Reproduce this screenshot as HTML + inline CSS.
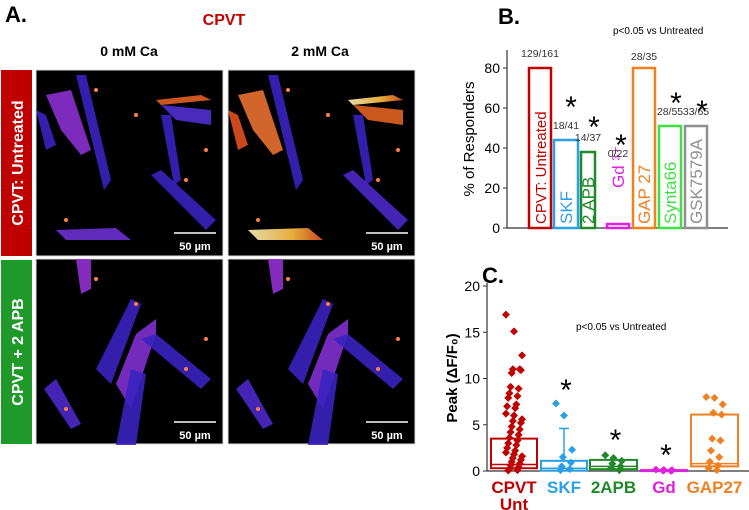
<!DOCTYPE html>
<html><head><meta charset="utf-8"><style>
body{margin:0;background:#fff;width:749px;height:510px;overflow:hidden;font-family:"Liberation Sans",sans-serif}
svg{position:absolute;left:0;top:0}
</style></head><body>
<svg width="749" height="510" font-family="Liberation Sans, sans-serif">
<defs>
<linearGradient id="hot2" x1="0" x2="1"><stop offset="0" stop-color="#fff4c0"/><stop offset=".6" stop-color="#ffc040"/><stop offset="1" stop-color="#e05020"/></linearGradient>
</defs>
<text x="5" y="22" font-size="22" font-weight="bold">A.</text>
<text x="224" y="25" font-size="16" font-weight="bold" fill="#c00000" text-anchor="middle">CPVT</text>
<text x="129" y="56" font-size="14" font-weight="bold" text-anchor="middle">0 mM Ca</text>
<text x="320" y="56" font-size="14" font-weight="bold" text-anchor="middle">2 mM Ca</text>
<rect x="1" y="70" width="31" height="186" fill="#c00000"/>
<text transform="translate(23,163) rotate(-90)" font-size="16" font-weight="bold" fill="#fff" text-anchor="middle">CPVT: Untreated</text>
<rect x="1" y="260" width="31" height="184" fill="#1f9a2a"/>
<text transform="translate(23,352) rotate(-90)" font-size="16" font-weight="bold" fill="#fff" text-anchor="middle">CPVT + 2 APB</text>
<g id="imgs"></g>
<g id="chartB"></g>
<g id="chartC"></g>
</svg>
<script>
// Chart B data
const bCats=["CPVT: Untreated","SKF","2 APB","Gd","GAP 27","Synta66","GSK7579A"];
const bVals=[80,44,38,2,80,51,51];
const bCounts=["129/161","18/41","14/37","0/22","28/35","28/55","33/65"];
const bStarVals=[null,64,54,45,null,66,62];
const bTicks=[0,20,40,60,80];
// Chart C data
const cCats=["CPVT","SKF","2APB","Gd","GAP27"];
const cQ1=[0.3,0.05,0.2,0,0.5];
const cMed=[0.7,0.3,0.5,0.05,0.8];
const cQ3=[3.5,1.1,1.2,0.1,6.1];
const cWhisk=[null,4.6,null,null,null];
const cStarVals=[null,9.5,4.1,2.5,null];
const cTicks=[0,5,10,15,20];
const cPts0=[16.9,15.1,12.5,11,10.9,10.6,11,9.1,8.9,8.4,8.1,7.9,7.2,7,6.8,6.2,6,5.6,5.4,5.2,4.8,4.5,4.2,3.9,3.6,3.3,3,2.8,2.5,2.2,2,1.8,1.6,1.4,1.2,1,0.8,0.6,0.4,0.2,0.1,0.05];
const cPts1=[7.3,6,2.3,1.5,0.9,0.5,0.2,0.1];
const cPts2=[1.7,1.4,1.1,0.8,0.5,0.3,0.1];
const cPts3=[0.15,0.1,0.08,0.05,0.03];
const cPts4=[8,7.9,7.2,6.3,6.1,3.5,3.3,2.2,1.5,1,0.6,0.3,0.1];
const cPts=[cPts0,cPts1,cPts2,cPts3,cPts4];

const NS="http://www.w3.org/2000/svg";
function mk(p,t,a){const e=document.createElementNS(NS,t);for(const k in a)e.setAttribute(k,a[k]);p.appendChild(e);return e;}
// ---- Microscopy panels (approximate) ----
const imgs=document.getElementById('imgs');
const panels=[[36,70,'top-0mm'],[228,70,'top-2mm'],[36,259,'bottom-0mm'],[228,259,'bottom-2mm']];
const topCells=[["10,25 35,20 55,80 45,85 25,60","#8a30d0","#e87030"],["40,5 50,5 75,110 68,120","#3a22c0","#3a22c0"],["120,30 165,25 175,30 125,35","#e06020","url(#hot2)"],["125,35 175,40 175,55 140,50","#5030d0","#e06020"],["125,45 135,45 145,110 138,115","#3a22c0","#3a22c0"],["115,105 125,100 180,150 170,160","#3a22c0","#4a28c8"],["20,160 80,158 95,170 30,170","#6a30d0","url(#hot2)"],["0,40 10,45 20,75 10,80","#3a22c0","#e05020"]];
const botCells=[["40,0 55,0 55,30 45,35","#9030d0","#9030d0"],["60,110 95,40 105,45 75,125","#3a22c0","#3a22c0"],["80,125 100,75 120,60 120,75 95,150","#8030d0","#8030d0"],["105,80 120,75 175,120 165,130","#3a22c0","#3a22c0"],["80,186 95,110 110,115 100,186","#3a22c0","#3a22c0"],["8,130 20,120 45,165 35,170","#4a28c8","#4a28c8"]];
const specks=[[60,20],[150,110],[30,150],[100,45],[170,80]];
panels.forEach((p,i)=>{
  const g=mk(imgs,'g',{transform:`translate(${p[0]},${p[1]})`});
  
  
  mk(g,'rect',{x:0,y:0,width:187,height:i<2?186:185,fill:'#000',stroke:'#ddd','stroke-width':1});
  const cells=i<2?topCells:botCells;
  cells.forEach(c=>mk(g,'polygon',{points:c[0],fill:(i%2)?c[2]:c[1],opacity:.9}));
  specks.forEach(s=>mk(g,'circle',{cx:s[0],cy:s[1],r:2,fill:'#ff8040'}));
  mk(g,'line',{x1:138,y1:163,x2:180,y2:163,stroke:'#fff','stroke-width':1.5});
  const t=mk(g,'text',{x:159,y:180,'font-size':11,'font-weight':'bold',fill:'#fff','text-anchor':'middle'});t.textContent='50 µm';
});
// ---- Chart B ----
const bColors=["#c00000","#2aa0e8","#1f8a2a","#e020e0","#f08020","#40e040","#909090"];
const bX=[529,554,581,607,633,659,685],bW=[22,24,14,22,22,22,22];
const yB=v=>228-2*v;
const B=document.getElementById('chartB');
let t=mk(B,'text',{x:498,y:24,'font-size':22,'font-weight':'bold'});t.textContent='B.';


t=mk(B,'text',{x:613,y:34,'font-size':10});t.textContent='p<0.05 vs Untreated';
mk(B,'line',{x1:507,y1:50,x2:507,y2:228,stroke:'#333','stroke-width':1.2});
mk(B,'line',{x1:507,y1:228,x2:728,y2:228,stroke:'#333','stroke-width':1.2});
bTicks.forEach(v=>{mk(B,'line',{x1:503,y1:yB(v),x2:507,y2:yB(v),stroke:'#333'});const s=mk(B,'text',{x:500,y:yB(v)+5,'font-size':14,'text-anchor':'end'});s.textContent=v;});
t=mk(B,'text',{transform:'translate(474,139) rotate(-90)','font-size':15,'text-anchor':'middle'});t.textContent='% of Responders';


bVals.forEach((v,i)=>{
  const r=mk(B,'rect',{x:bX[i],y:yB(v),width:bW[i],height:228-yB(v),fill:'none',stroke:bColors[i],'stroke-width':2.5});
  
  
  const cx=bX[i]+bW[i]/2;
  const lab=mk(B,'text',{transform:`translate(${cx+6},${i==3?188:224}) rotate(-90)`,'font-size':i==0?15:17,fill:bColors[i]});
  lab.textContent=i==3?'Gd ³⁺':bCats[i];
  let cy=yB(v)-11; if(i==3)cy=yB(36)+1; if(i==4)cy=yB(v)-8;
  const c=mk(B,'text',{x:cx,y:cy,'font-size':10.5,fill:'#333','text-anchor':'middle'});c.textContent=bCounts[i];
  if(bStarVals[i]!=null){const s=mk(B,'text',{x:cx+(i==1?5:i==3?3:6),y:yB(bStarVals[i])+17,'font-size':30,'text-anchor':'middle'});s.textContent='*';}
});
// ---- Chart C ----
const C=document.getElementById('chartC');
const yC=v=>471-9.25*v;
const cColors=["#c00000","#2aa0e8","#1f8a2a","#e020e0","#f08020"];
const cX=[491,541,590,641,691],cW=[46,46,47,46,47];
t=mk(C,'text',{x:482,y:283,'font-size':22,'font-weight':'bold'});t.textContent='C.';


t=mk(C,'text',{x:576,y:330,'font-size':10});t.textContent='p<0.05 vs Untreated';
mk(C,'line',{x1:487,y1:283,x2:487,y2:471,stroke:'#333','stroke-width':1.2});
mk(C,'line',{x1:487,y1:471,x2:749,y2:471,stroke:'#333','stroke-width':1.2});
cTicks.forEach(v=>{mk(C,'line',{x1:483,y1:yC(v),x2:487,y2:yC(v),stroke:'#333'});const s=mk(C,'text',{x:480,y:yC(v)+5,'font-size':14,'text-anchor':'end'});s.textContent=v;});
t=mk(C,'text',{transform:'translate(457,378) rotate(-90)','font-size':15,'font-weight':'bold','text-anchor':'middle'});t.textContent='Peak (ΔF/F₀)';


cCats.forEach((n,i)=>{
  const col=cColors[i],x=cX[i],w=cW[i],cx=x+w/2;
  const g=mk(C,'g',{});
  
  
  mk(g,'rect',{x:x,y:yC(cQ3[i]),width:w,height:Math.max(1,yC(cQ1[i])-yC(cQ3[i])),fill:'none',stroke:col,'stroke-width':2});
  mk(g,'line',{x1:x,x2:x+w,y1:yC(cMed[i]),y2:yC(cMed[i]),stroke:col,'stroke-width':1.5});
  if(cWhisk[i]!=null){mk(g,'line',{x1:cx,x2:cx,y1:yC(cQ3[i]),y2:yC(cWhisk[i]),stroke:col,'stroke-width':1.5});mk(g,'line',{x1:cx-5,x2:cx+5,y1:yC(cWhisk[i]),y2:yC(cWhisk[i]),stroke:col,'stroke-width':1.5});}
  cPts[i].forEach((v,k)=>{const px=cx+((k*7)%15-7)*(w/40);const py=yC(v);
    mk(g,'polygon',{points:`${px},${py-4} ${px+4},${py} ${px},${py+4} ${px-4},${py}`,fill:col});});
  const l=mk(C,'text',{x:cx,y:493,'font-size':17,'font-weight':'bold',fill:col,'text-anchor':'middle'});l.textContent=n;
  if(cStarVals[i]!=null){const s=mk(C,'text',{x:cx+2,y:yC(cStarVals[i])+17,'font-size':30,'text-anchor':'middle'});s.textContent='*';}
});
t=mk(C,'text',{x:514,y:510,'font-size':17,'font-weight':'bold',fill:'#c00000','text-anchor':'middle'});t.textContent='Unt';
</script>
</body></html>
